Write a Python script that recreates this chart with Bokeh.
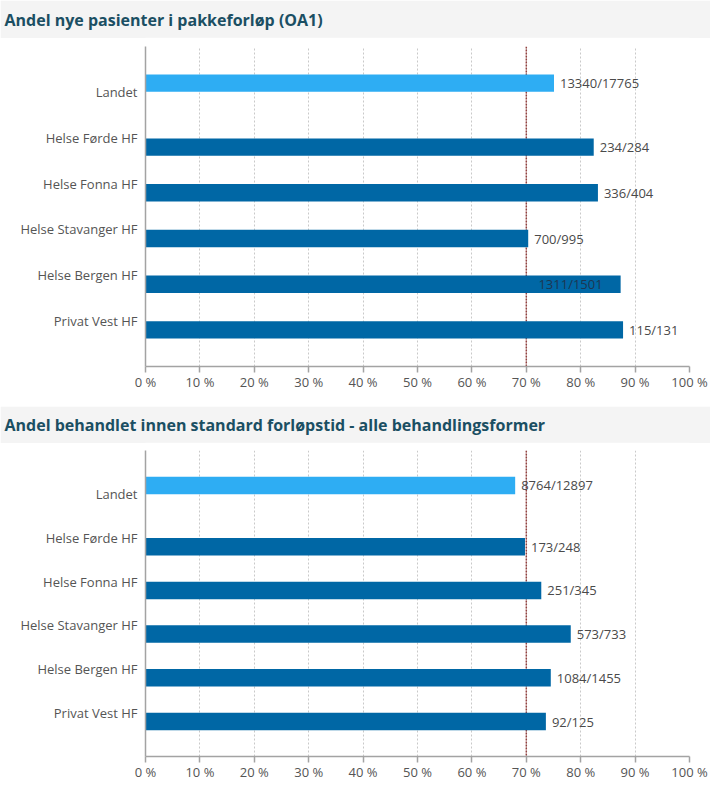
from bokeh.plotting import figure
from bokeh.models import FactorRange, Range1d, Span, ColumnDataSource, FixedTicker
from bokeh.transform import dodge
from bokeh.layouts import column
from bokeh.embed import file_html
from bokeh.resources import INLINE
from bokeh.core.properties import value

# ---------------- data ----------------
units = ["Landet", "Helse Førde HF", "Helse Fonna HF", "Helse Stavanger HF",
         "Helse Bergen HF", "Privat Vest HF"]
national = "Landet"

title1 = "Andel nye pasienter i pakkeforløp (OA1)"
oa1_num = [13340, 234, 336, 700, 1311, 115]
oa1_den = [17765, 284, 404, 995, 1501, 131]

title2 = "Andel behandlet innen standard forløpstid - alle behandlingsformer"
std_num = [8764, 173, 251, 573, 1084, 92]
std_den = [12897, 248, 345, 733, 1455, 125]

tick_values = [0, 10, 20, 30, 40, 50, 60, 70, 80, 90, 100]
tick_labels = ["0 %", "10 %", "20 %", "30 %", "40 %", "50 %", "60 %", "70 %",
               "80 %", "90 %", "100 %"]
target = 70

# labels drawn inside the bar (as in the source chart)
inside1 = {"Helse Bergen HF"}
inside2 = set()

# ---------------- style ----------------
W = 710
LEFT = 145
FONT = "Open Sans"
TITLE_COLOR = "#1b4f63"
TITLE_BG = "#f4f4f4"
LIGHT = "#2eadf3"
DARK = "#0067a5"
AXIS = "#a3a3a3"
TEXT = "#555555"


def title_bar(text, height, top, standoff):
    p = figure(width=W, height=height, x_range=Range1d(0, 1), y_range=Range1d(0, 1),
               title=text, toolbar_location=None, output_backend="svg",
               x_axis_location=None, y_axis_location=None,
               min_border_left=LEFT, min_border_right=21,
               min_border_top=top, min_border_bottom=0,
               border_fill_color=TITLE_BG, background_fill_color=TITLE_BG,
               outline_line_color=None)
    p.xgrid.visible = False
    p.ygrid.visible = False
    t = p.title
    t.align = "left"
    t.offset = 4 - LEFT
    t.vertical_align = "middle"
    t.standoff = standoff
    t.text_font = FONT
    t.text_font_size = "16px"
    t.text_font_style = "bold"
    t.text_color = TITLE_COLOR
    return p


def chart(names, num, den, inside, height, top, bottom, bar_h):
    share = [n / d * 100 for n, d in zip(num, den)]
    labels = [f"{n}/{d}" for n, d in zip(num, den)]
    yr = FactorRange(factors=list(reversed(names)), range_padding=0.5,
                     range_padding_units="absolute")
    p = figure(width=W, height=height, y_range=yr, x_range=Range1d(0, 100),
               toolbar_location=None, output_backend="svg",
               min_border_left=LEFT, min_border_right=21,
               min_border_top=top, min_border_bottom=bottom,
               outline_line_color=None, background_fill_color="white",
               border_fill_color="white")

    # grid
    p.ygrid.visible = False
    p.xgrid.ticker = FixedTicker(ticks=tick_values)
    p.xgrid.grid_line_color = "#c9c9c9"
    p.xgrid.grid_line_dash = "2 2"
    p.xgrid.grid_line_width = 1

    p.add_layout(Span(location=target, dimension="height", line_color="#93413f",
                      line_dash="2 1", line_width=1.5, level="underlay"))

    # axes
    xa = p.xaxis[0]
    xa.ticker = FixedTicker(ticks=tick_values)
    xa.major_label_overrides = {t: l for t, l in zip(tick_values, tick_labels)}
    xa.axis_line_color = AXIS
    xa.axis_line_width = 1.5
    xa.major_tick_line_color = AXIS
    xa.major_tick_line_width = 1.5
    xa.major_tick_out = 6
    xa.major_tick_in = 0
    xa.minor_tick_line_color = None
    xa.major_label_standoff = 0
    xa.major_label_text_font = FONT
    xa.major_label_text_font_size = "13px"
    xa.major_label_text_color = TEXT

    ya = p.yaxis[0]
    ya.axis_line_color = AXIS
    ya.axis_line_width = 1.5
    ya.major_tick_line_color = None
    ya.minor_tick_line_color = None
    ya.major_tick_out = 0
    ya.major_tick_in = 0
    ya.major_label_standoff = 8
    ya.major_label_text_font = FONT
    ya.major_label_text_font_size = "13px"
    ya.major_label_text_color = TEXT

    rows = list(zip(names, share, labels))
    groups = [
        ([r for r in rows if r[0] == national], 0.2, LIGHT),
        ([r for r in rows if r[0] != national], -0.2, DARK),
    ]
    for grp, off, color in groups:
        src = ColumnDataSource(dict(name=[r[0] for r in grp], share=[r[1] for r in grp],
                                    label=[r[2] for r in grp]))
        p.hbar(y=dodge("name", off, range=yr), left=0, right="share", height=bar_h,
               source=src, fill_color=color, line_color=None)
        out = [r for r in grp if r[0] not in inside]
        ins = [r for r in grp if r[0] in inside]
        if out:
            s_out = ColumnDataSource(dict(name=[r[0] for r in out], share=[r[1] for r in out],
                                          label=[r[2] for r in out]))
            p.text(x="share", y=dodge("name", off, range=yr), text="label", source=s_out,
                   x_offset=6, text_align="left", text_baseline="middle",
                   text_font=value(FONT), text_font_size=value("13px"), text_color="#4a4a4a")
        if ins:
            s_in = ColumnDataSource(dict(name=[r[0] for r in ins], share=[r[1] for r in ins],
                                         label=[r[2] for r in ins]))
            p.text(x="share", y=dodge("name", off, range=yr), text="label", source=s_in,
                   x_offset=-18, text_align="right", text_baseline="middle",
                   text_font=value(FONT), text_font_size=value("13px"), text_color="#1d3652")
    return p


t1 = title_bar(title1, 38, 37, 12)
c1 = chart(units, oa1_num, oa1_den, inside1, 368, 8, 40, 0.38)
t2 = title_bar(title2, 37, 36, 11)
c2 = chart(units, std_num, std_den, inside2, 340, 7, 26, 0.4)

layout = column(t1, c1, t2, c2, spacing=0)

open("out.html", "w").write(file_html(layout, INLINE))
